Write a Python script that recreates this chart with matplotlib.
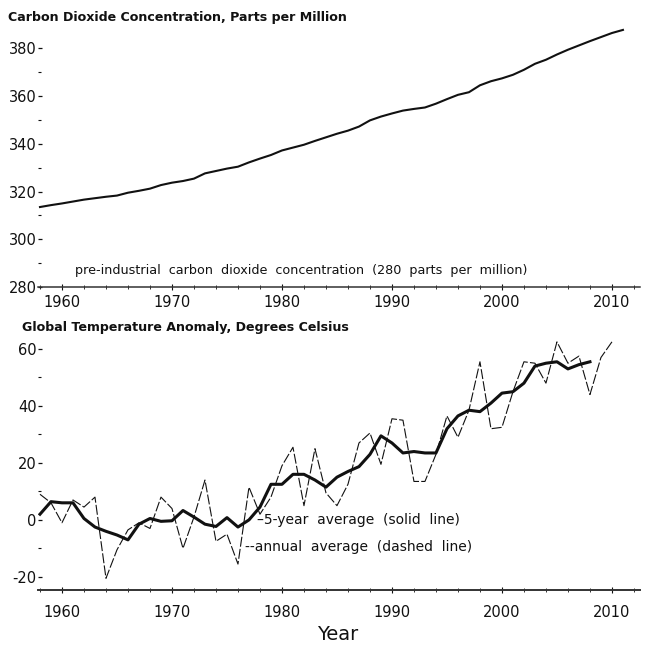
"""CO2 concentration and global temperature anomaly, two stacked panels."""
import matplotlib
matplotlib.use("Agg")
import matplotlib.pyplot as plt
from matplotlib.ticker import MultipleLocator

# --- data ---
co2_years = list(range(1958, 2012))
co2_ppm = [313.5, 314.3, 315.0, 315.8, 316.6, 317.2, 317.8, 318.3, 319.5, 320.3,
           321.2, 322.7, 323.7, 324.4, 325.4, 327.6, 328.6, 329.6, 330.4, 332.2,
           333.8, 335.3, 337.2, 338.4, 339.6, 341.2, 342.7, 344.2, 345.5, 347.2,
           349.8, 351.4, 352.7, 353.9, 354.6, 355.2, 356.8, 358.7, 360.5, 361.6,
           364.5, 366.2, 367.4, 368.9, 371.0, 373.5, 375.2, 377.4, 379.4, 381.2,
           383.0, 384.7, 386.4, 387.7]

temp_years = list(range(1958, 2011))
temp_annual = [9, 6, -1, 7, 4.5, 8, -20.5, -10.5, -3.5, -1,
               -3, 8, 4, -10, 1, 14, -7.5, -5, -15.5, 11.5,
               2, 8, 19, 25.5, 5, 25, 9.5, 5, 12.5, 27,
               30.5, 19.5, 35.5, 35, 13.5, 13.5, 23, 36.5, 29, 38.5,
               55.5, 32, 32.5, 45, 55.5, 55, 48, 62.5, 55, 57.5,
               44, 57, 62.5]

avg_years = list(range(1958, 2009))
temp_5yr = [2, 6.4, 6, 6, 0.5, -2.5, -4, -5.3, -7, -1.5,
            0.5, -0.5, -0.3, 3.3, 1, -1.5, -2.3, 0.8, -2.5, 0,
            4.5, 12.5, 12.5, 16, 16, 14, 11.5, 15, 17, 18.7,
            23, 29.5, 27, 23.5, 24, 23.5, 23.5, 32, 36.5, 38.5,
            38, 41, 44.5, 45, 48, 54, 55, 55.5, 53, 54.5,
            55.5]

W, H = 647, 645
INK = "#111111"
plt.rcParams["font.family"] = ["DejaVu Sans"]
plt.rcParams["axes.unicode_minus"] = False

fig = plt.figure(figsize=(W / 100, H / 100), dpi=100)
fig.patch.set_facecolor("white")

xlim = (1957.82, 2012.55)


def style(ax, bottom_lw, label_pad):
    for side in ("top", "right", "left"):
        ax.spines[side].set_visible(False)
    ax.spines["bottom"].set_linewidth(bottom_lw)
    ax.spines["bottom"].set_color("#333333")
    ax.set_xlim(*xlim)
    ax.xaxis.set_major_locator(MultipleLocator(10))
    ax.xaxis.set_minor_locator(MultipleLocator(2))
    ax.tick_params(axis="x", which="major", direction="inout", length=4,
                   width=0.8, labelsize=10.5, pad=label_pad, colors=INK)
    ax.tick_params(axis="x", which="minor", direction="inout", length=2.5,
                   width=0.6, colors=INK)
    ax.tick_params(axis="y", which="major", direction="in", length=3,
                   width=0.9, labelsize=10.5, pad=1, colors=INK)
    ax.tick_params(axis="y", which="minor", direction="in", length=2,
                   width=0.8, colors=INK)


# top panel: CO2
ax1 = fig.add_axes([38 / W, 1 - 287 / H, (640 - 38) / W, (287 - 28) / H])
ax1.plot(co2_years, co2_ppm, color=INK, lw=1.5)
ax1.set_ylim(280, 388.5)
ax1.yaxis.set_major_locator(MultipleLocator(20))
ax1.yaxis.set_minor_locator(MultipleLocator(10))
style(ax1, 1.1, 4)
ax1.text(1961.2, 286.8,
         "pre-industrial  carbon  dioxide  concentration  (280  parts  per  million)",
         fontsize=9.15, color=INK, va="center", ha="left")

# bottom panel: temperature anomaly
ax2 = fig.add_axes([38 / W, 1 - 590 / H, (640 - 38) / W, (590 - 335) / H])
ax2.plot(temp_years, temp_annual, color=INK, lw=0.8, ls=(0, (9, 2)))
ax2.plot(avg_years, temp_5yr, color=INK, lw=2.2, solid_joinstyle="round")
ax2.set_ylim(-24.6, 64.9)
ax2.yaxis.set_major_locator(MultipleLocator(20))
ax2.yaxis.set_minor_locator(MultipleLocator(10))
style(ax2, 1.4, 9)
ax2.text(1977.7, 0, "\u20135-year  average  (solid  line)",
         fontsize=10, color=INK, va="center", ha="left")
ax2.text(1976.6, -9.6, "--annual  average  (dashed  line)",
         fontsize=10, color=INK, va="center", ha="left")

fig.text(8 / W, 1 - 18 / H, "Carbon Dioxide Concentration, Parts per Million",
         fontsize=9.1, fontweight="bold", color=INK, va="center", ha="left")
fig.text(22 / W, 1 - 328 / H, "Global Temperature Anomaly, Degrees Celsius",
         fontsize=9.1, fontweight="bold", color=INK, va="center", ha="left")
fig.text(338 / W, 1 - 634 / H, "Year", fontsize=14, color=INK,
         va="center", ha="center")

fig.savefig("out.png", dpi=100, facecolor="white")
plt.close(fig)
